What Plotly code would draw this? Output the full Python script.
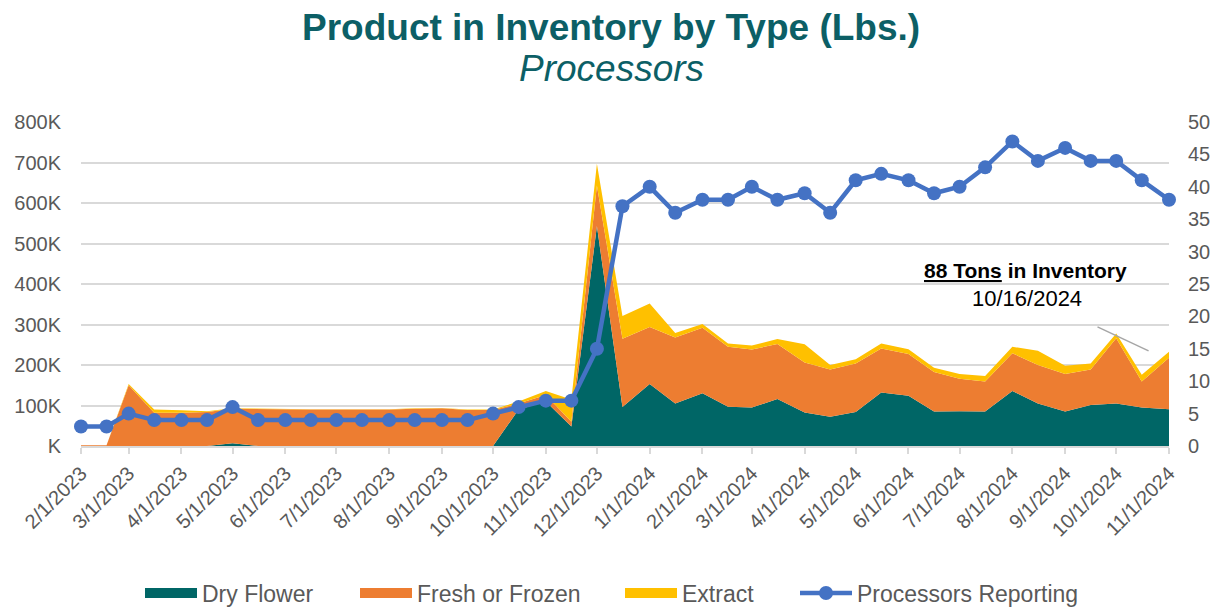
import plotly.graph_objects as go

dates = [
    "2023-02-01", "2023-02-16", "2023-03-01", "2023-03-16", "2023-04-01", "2023-04-16",
    "2023-05-01", "2023-05-16", "2023-06-01", "2023-06-16", "2023-07-01", "2023-07-16",
    "2023-08-01", "2023-08-16", "2023-09-01", "2023-09-16", "2023-10-01", "2023-10-16",
    "2023-11-01", "2023-11-16", "2023-12-01", "2023-12-16", "2024-01-01", "2024-01-16",
    "2024-02-01", "2024-02-16", "2024-03-01", "2024-03-16", "2024-04-01", "2024-04-16",
    "2024-05-01", "2024-05-16", "2024-06-01", "2024-06-16", "2024-07-01", "2024-07-16",
    "2024-08-01", "2024-08-16", "2024-09-01", "2024-09-16", "2024-10-01", "2024-10-16",
    "2024-11-01",
]

dry_flower = [
    0, 0, 0, 0, 0, 0, 7000, 0, 0, 0, 0, 0, 0, 0, 0, 0, 0, 90000,
    110000, 48000, 543000, 96000, 153000, 105000, 130000, 97000, 95000, 116000, 83000, 72000,
    84000, 132000, 124000, 85000, 86000, 85000, 136000, 105000, 85000, 101000, 105000, 95000,
    91000,
]

fresh_frozen = [
    2000, 2000, 150000, 82000, 82000, 84000, 85000, 91000, 90000, 90000, 90000, 90000,
    90000, 92000, 93000, 89000, 89000, 15000, 16000, 12000, 100000, 169000, 141000, 163000,
    162000, 148000, 143000, 136000, 123000, 117000, 120000, 109000, 103000, 98000, 80000, 74000,
    93000, 95000, 93000, 88000, 161000, 64000, 127000,
]

extract = [
    0, 0, 3000, 8000, 6000, 2000, 1000, 1000, 1000, 1000, 1000, 1000,
    1000, 1000, 1000, 1000, 1000, 5000, 10000, 55000, 54000, 56000, 58000, 11000,
    9000, 8000, 10000, 12000, 45000, 11000, 10000, 12000, 12000, 10000, 12000, 14000,
    16000, 35000, 20000, 15000, 12000, 17000, 15000,
]

processors = [
    3, 3, 5, 4, 4, 4, 6, 4, 4, 4, 4, 4, 4, 4, 4, 4, 5, 6, 7, 7, 15, 37,
    40, 36, 38, 38, 40, 38, 39, 36, 41, 42, 41, 39, 40, 43, 47, 44, 46, 44, 44, 41, 38,
]

left_tickvals = [0, 100000, 200000, 300000, 400000, 500000, 600000, 700000, 800000]
left_ticktext = ["K", "100K", "200K", "300K", "400K", "500K", "600K", "700K", "800K"]
right_tickvals = [0, 5, 10, 15, 20, 25, 30, 35, 40, 45, 50]

TEAL = "#006666"
ORANGE = "#ED7D31"
YELLOW = "#FFC000"
BLUE = "#4472C4"
GRAY = "#595959"
GRID = "#D9D9D9"
TITLE = "#0C5F66"
FONT = "Liberation Sans, Arial, sans-serif"

# page offset from the default 8px body margin
OFF = 8
W, H = 1228 - OFF, 610 - OFF
# plot area in page pixels (used only for layout placement)
PL, PR, PT, PB = 81, 1169, 122, 446
PW, PH = PR - PL, PB - PT


def px_x(px):
    return (px - PL) / PW


def px_y(py):
    return (PB - py) / PH


fig = go.Figure()

series = [
    ("Dry Flower", dry_flower, TEAL, "legend"),
    ("Fresh or Frozen", fresh_frozen, ORANGE, "legend2"),
    ("Extract", extract, YELLOW, "legend3"),
]
for name, vals, col, lg in series:
    fig.add_trace(go.Scatter(
        x=dates, y=vals, name=name, mode="lines",
        stackgroup="one", line=dict(width=0, color=col),
        fillcolor=col, showlegend=False,
    ))

fig.add_trace(go.Scatter(
    x=dates, y=processors, name="Processors Reporting", yaxis="y2",
    mode="lines+markers", line=dict(color=BLUE, width=4.5),
    marker=dict(color=BLUE, size=14), cliponaxis=False, showlegend=False,
))

# legend proxies
for name, vals, col, lg in series:
    fig.add_trace(go.Scatter(
        x=[None], y=[None], name=name, mode="lines",
        line=dict(color=col, width=14), legend=lg, showlegend=True,
    ))
fig.add_trace(go.Scatter(
    x=[None], y=[None], name="Processors Reporting", mode="lines+markers",
    line=dict(color=BLUE, width=4.5), marker=dict(color=BLUE, size=14),
    legend="legend4", showlegend=True,
))

leg_common = dict(orientation="h", yanchor="middle", y=px_y(593), xanchor="left",
                  font=dict(size=23, color=GRAY, family=FONT), itemwidth=52,
                  bgcolor="rgba(0,0,0,0)")

fig.update_layout(
    width=W, height=H,
    margin=dict(l=PL - OFF, r=W - (PR - OFF), t=PT - OFF, b=H - (PB - OFF), autoexpand=False),
    paper_bgcolor="white", plot_bgcolor="white",
    font=dict(family=FONT, color=GRAY, size=18),
    legend=dict(leg_common, x=px_x(140)),
    legend2=dict(leg_common, x=px_x(355)),
    legend3=dict(leg_common, x=px_x(620)),
    legend4=dict(leg_common, x=px_x(795)),
    xaxis=dict(
        type="date", range=["2023-02-01", "2024-11-01"],
        tick0="2023-02-01", dtick="M1", tickformat="%-m/%-d/%Y",
        tickangle=-45, tickfont=dict(size=20, color=GRAY),
        showgrid=False, showline=True, linecolor=GRID, linewidth=1.5,
        ticks="outside", ticklen=6, tickcolor=GRID, tickwidth=1.5,
        automargin=False,
    ),
    yaxis=dict(
        range=[0, 800000], tickvals=left_tickvals, ticktext=left_ticktext,
        showgrid=True, gridcolor=GRID, gridwidth=1.5, zeroline=False,
        tickfont=dict(size=20, color=GRAY), ticks="", ticklabelstandoff=19,
        automargin=False,
    ),
    yaxis2=dict(
        range=[0, 50], tickvals=right_tickvals, overlaying="y", side="right",
        showgrid=False, zeroline=False, tickfont=dict(size=20, color=GRAY),
        ticklabelstandoff=18, automargin=False,
    ),
    annotations=[
        dict(text="<b>Product in Inventory by Type (Lbs.)</b>", xref="paper", yref="paper",
             x=px_x(611), y=px_y(27), xanchor="center", yanchor="middle", showarrow=False,
             font=dict(size=37, color=TITLE, family=FONT)),
        dict(text="<i>Processors</i>", xref="paper", yref="paper",
             x=px_x(611), y=px_y(69), xanchor="center", yanchor="middle", showarrow=False,
             font=dict(size=37, color=TITLE, family=FONT)),
        dict(text="<b><u>88 Tons</u> in Inventory</b>", xref="paper", yref="paper",
             x=px_x(1025), y=px_y(270), xanchor="center", yanchor="middle",
             showarrow=False, font=dict(size=21, color="black", family=FONT)),
        dict(text="10/16/2024", xref="paper", yref="paper",
             x=px_x(1027), y=px_y(298), xanchor="center", yanchor="middle",
             showarrow=False, font=dict(size=22, color="black", family=FONT)),
    ],
    shapes=[
        dict(type="line", xref="x", yref="y", x0="2024-09-20", y0=294000,
             x1="2024-10-20", y1=235000, line=dict(color="#A6A6A6", width=1.5)),
    ],
)

fig.write_html("out.html")
